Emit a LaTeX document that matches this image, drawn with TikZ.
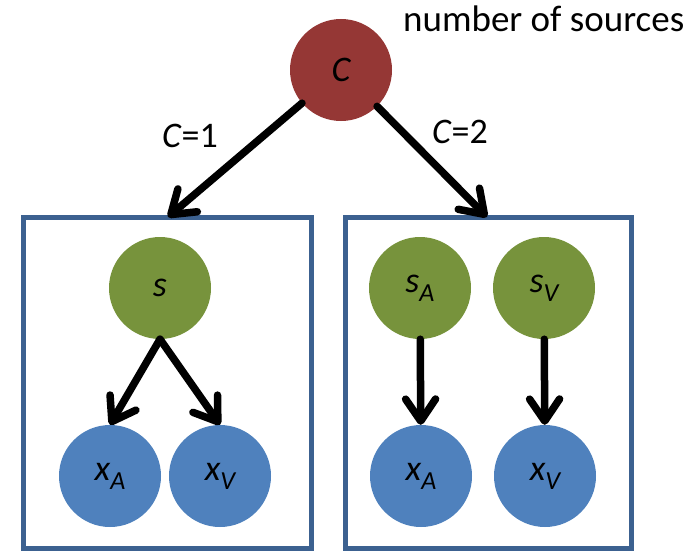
\documentclass[tikz,border=0pt]{standalone}
\usepackage{fontspec}
\setmainfont{Carlito}
\usetikzlibrary{arrows.meta}
\definecolor{srcred}{HTML}{953735}
\definecolor{srcgreen}{HTML}{77933C}
\definecolor{obsblue}{HTML}{4F81BD}
\definecolor{frameblue}{HTML}{3C6190}
\newcommand\withsub[2]{#1\raisebox{-9pt}{\fontsize{26}{26}\selectfont #2}}
\begin{document}
\begin{tikzpicture}[x=1pt,y=-1pt,
  every node/.style={font=\fontsize{36}{43}\selectfont},
  var/.style={circle,minimum size=102pt,inner sep=0pt,font=\fontsize{36}{43}\selectfont\itshape},
  cause/.style={var,fill=srcred},
  latent/.style={var,fill=srcgreen},
  observed/.style={var,fill=obsblue},
  frame/.style={draw=frameblue,line width=5pt},
  edge/.style={line width=7.5pt,line cap=round,-{Straight Barb[length=22pt,width=30pt,round]}},
]
\useasboundingbox (0,0) rectangle (698,551);

% model-selection variable
\node[cause] (C) at (341,70) {C};
\node[anchor=base west,inner sep=0pt,font=\fontsize{37}{44}\selectfont] (lbl) at (403,32) {number of sources};

% two hypothesis frames
\draw[frame] (23,217) rectangle (311,548);
\draw[frame] (345,217) rectangle (631,548);
\coordinate (t1) at (168,217);
\coordinate (t2) at (487,217);

% C = 1: one common source
\node[latent] (s) at (160,288) {s};
\node[observed] (xa1) at (110,476) {\withsub{x}{A}};
\node[observed] (xv1) at (220,476) {\withsub{x}{V}};

% C = 2: independent sources
\node[latent] (sa) at (420,288) {\withsub{s}{A}};
\node[latent] (sv) at (544,288) {\withsub{s}{V}};
\node[observed] (xa2) at (421,476) {\withsub{x}{A}};
\node[observed] (xv2) at (545,476) {\withsub{x}{V}};

% edges
\draw[edge] (C) -- (t1);
\draw[edge] (C) -- (t2);
\node (c1) at (190,136) {\textit{C}=1};
\node (c2) at (460,132) {\textit{C}=2};

\draw[edge] (s.south) -- (xa1.north);
\draw[edge] (s.south) -- (xv1.north);
\draw[edge] (sa) -- (xa2);
\draw[edge] (sv) -- (xv2);
\end{tikzpicture}
\end{document}
